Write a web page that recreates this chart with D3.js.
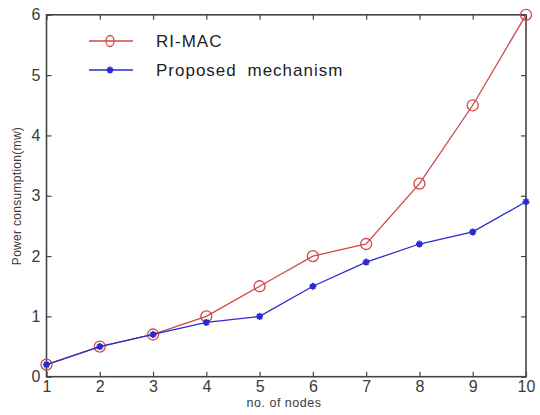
<!DOCTYPE html>
<html><head><meta charset="utf-8">
<script src="https://cdn.jsdelivr.net/npm/d3@7"></script>
<style>body{margin:0;background:#fff}svg{display:block}</style>
</head><body>
<svg id="c" width="540" height="415"></svg>
<script>
const nodes = [1,2,3,4,5,6,7,8,9,10];
const riMac = [0.2,0.5,0.7,1.0,1.5,2.0,2.2,3.2,4.5,6.0];
const proposed = [0.2,0.5,0.7,0.9,1.0,1.5,1.9,2.2,2.4,2.9];
const xTicks = [1,2,3,4,5,6,7,8,9,10];
const yTicks = [0,1,2,3,4,5,6];
const seriesNames = ["RI-MAC","Proposed mechanism"];

const svg = d3.select("#c");
const L=46.5, R=526, T=14.8, B=376.7;
const x = d3.scaleLinear().domain([1,10]).range([L,R]);
const y = d3.scaleLinear().domain([0,6]).range([B,T]);
const axisCol="#444", textCol="#3a3a3a";
const red="#d04848", blue="#2b2bd0";
const FF="Liberation Sans, Arial, sans-serif";

// box
svg.append("rect").attr("x",L).attr("y",T).attr("width",R-L).attr("height",B-T)
  .attr("fill","none").attr("stroke",axisCol).attr("stroke-width",1.6);

function styleAxis(g){
  g.select(".domain").remove();
  g.selectAll("line").attr("stroke",axisCol).attr("stroke-width",1.2);
  g.selectAll("text").attr("fill",textCol).attr("font-family",FF).attr("font-size","16px");
}
svg.append("g").attr("transform",`translate(0,${B})`)
  .call(d3.axisBottom(x).tickValues(xTicks).tickSizeInner(-5).tickSizeOuter(0).tickPadding(4).tickFormat(d3.format("d")))
  .call(styleAxis);
svg.append("g").attr("transform",`translate(${L},0)`)
  .call(d3.axisLeft(y).tickValues(yTicks).tickSizeInner(-5).tickSizeOuter(0).tickPadding(6).tickFormat(d3.format("d")))
  .call(styleAxis);
svg.append("g").attr("transform",`translate(0,${T})`)
  .call(d3.axisTop(x).tickValues(xTicks).tickSizeInner(-5).tickSizeOuter(0).tickFormat(""))
  .call(styleAxis);
svg.append("g").attr("transform",`translate(${R},0)`)
  .call(d3.axisRight(y).tickValues(yTicks).tickSizeInner(-5).tickSizeOuter(0).tickFormat(""))
  .call(styleAxis);

// labels
svg.append("text").attr("x",284).attr("y",407).attr("text-anchor","middle")
  .attr("font-family",FF).attr("font-size","12.5px").attr("letter-spacing","0.5px").attr("fill",textCol)
  .text("no. of nodes");
svg.append("text").attr("transform","translate(21,196) rotate(-90)").attr("text-anchor","middle")
  .attr("font-family",FF).attr("font-size","12px").attr("letter-spacing","0.3px").attr("fill",textCol)
  .text("Power consumption(mw)");

const line = d3.line().x((d,i)=>x(nodes[i])).y(d=>y(d));
function star(g,cx,cy,col){
  const s=3.5;
  const p=d3.path();
  p.moveTo(cx-s,cy);p.lineTo(cx+s,cy);
  p.moveTo(cx,cy-s);p.lineTo(cx,cy+s);
  p.moveTo(cx-s*0.7,cy-s*0.7);p.lineTo(cx+s*0.7,cy+s*0.7);
  p.moveTo(cx-s*0.7,cy+s*0.7);p.lineTo(cx+s*0.7,cy-s*0.7);
  g.append("path").attr("d",p.toString()).attr("stroke",col).attr("stroke-width",1.8).attr("fill","none");
}
svg.append("path").datum(riMac).attr("d",line).attr("fill","none").attr("stroke",red).attr("stroke-width",1.3);
svg.append("g").selectAll("circle").data(riMac).join("circle")
  .attr("cx",(d,i)=>x(nodes[i])).attr("cy",d=>y(d)).attr("r",5.5)
  .attr("fill","none").attr("stroke",red).attr("stroke-width",1.3);
svg.append("path").datum(proposed).attr("d",line).attr("fill","none").attr("stroke",blue).attr("stroke-width",1.3);
const sg = svg.append("g");
proposed.forEach((d,i)=>star(sg,x(nodes[i]),y(d),blue));

// legend
const lg = svg.append("g");
const cols=[red,blue];
seriesNames.forEach((n,i)=>{
  const ly = 41 + i*29;
  lg.append("line").attr("x1",89).attr("x2",133).attr("y1",ly).attr("y2",ly).attr("stroke",cols[i]).attr("stroke-width",1.3);
  if(i===0) lg.append("ellipse").attr("cx",110).attr("cy",ly).attr("rx",4).attr("ry",5.5).attr("fill","none").attr("stroke",red).attr("stroke-width",1.3);
  else star(lg,110,ly,blue);
  lg.append("text").attr("x",156).attr("y",ly+6).attr("font-family",FF)
    .attr("font-size","17px").attr("letter-spacing","1px").attr("word-spacing","5px").attr("fill","#222").text(n);
});
</script>
</body></html>
